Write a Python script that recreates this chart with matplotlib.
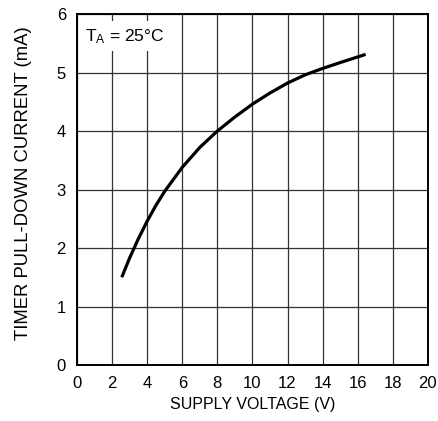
import matplotlib
matplotlib.use("Agg")
from matplotlib import pyplot as plt

# curve
voltage = [2.55, 3.0, 3.5, 4.0, 4.5, 5.0, 6.0, 7.0, 8.0, 9.0, 10.0, 11.0, 12.0, 13.0, 14.0, 15.0, 16.45]
current = [1.50, 1.83, 2.16, 2.46, 2.73, 2.97, 3.38, 3.72, 4.00, 4.24, 4.46, 4.65, 4.82, 4.96, 5.07, 5.17, 5.31]

x_ticks = list(range(0, 21, 2))
y_ticks = list(range(0, 7))

font = ["Liberation Sans Narrow", "Liberation Sans", "DejaVu Sans"]
plt.rcParams["font.family"] = font
plt.rcParams["mathtext.fontset"] = "custom"
plt.rcParams["mathtext.rm"] = "Liberation Sans"
plt.rcParams["mathtext.it"] = "Liberation Sans"

fig = plt.figure(figsize=(4.38, 4.21), dpi=100)
ax = fig.add_axes([0.1758, 0.133, 0.8012, 0.8337])

ax.plot(voltage, current, color="black", lw=2.3, solid_capstyle="butt", zorder=3)

ax.set_xlim(0, 20)
ax.set_ylim(0, 6)
ax.set_xticks(x_ticks)
ax.set_yticks(y_ticks)
ax.tick_params(length=0, labelsize=12, pad=8)
ax.grid(True, color="#333333", lw=0.9)
for s in ax.spines.values():
    s.set_linewidth(1.4)

ax.set_xlabel("SUPPLY VOLTAGE (V)", fontsize=11.5, labelpad=4)
ax.set_ylabel("TIMER PULL-DOWN CURRENT (mA)", fontsize=13.3)
ax.yaxis.set_label_coords(-0.127, 0.518)

ax.text(0.45, 5.78, r"T$_\mathrm{A}$ = 25°C", fontsize=12.5, va="top", ha="left",
        bbox=dict(facecolor="white", edgecolor="none", pad=4), zorder=4)

fig.savefig("out.png", dpi=100)
